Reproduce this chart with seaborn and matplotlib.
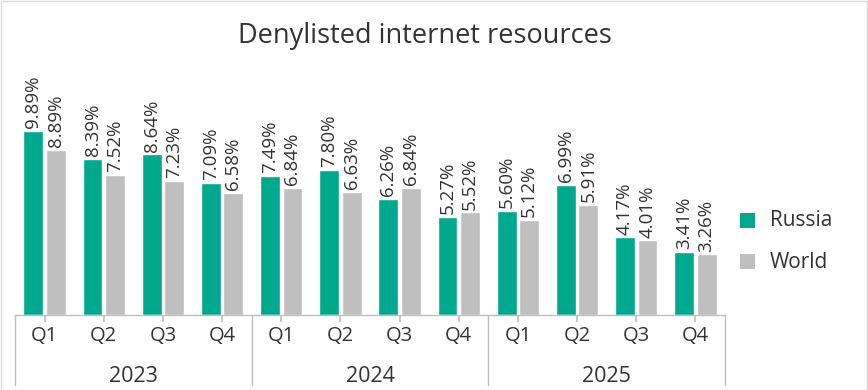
import matplotlib
matplotlib.use("Agg")
import matplotlib.pyplot as plt
import matplotlib.transforms as mtransforms
from matplotlib.patches import Rectangle
import seaborn as sns
import pandas as pd

years = ["2023", "2024", "2025"]
quarters = ["Q1", "Q2", "Q3", "Q4"]
russia = [9.89, 8.39, 8.64, 7.09, 7.49, 7.80, 6.26, 5.27, 5.60, 6.99, 4.17, 3.41]
world = [8.89, 7.52, 7.23, 6.58, 6.84, 6.63, 6.84, 5.52, 5.12, 5.91, 4.01, 3.26]
series = ["Russia", "World"]
colors = {"Russia": "#00A88E", "World": "#BFBFBF"}
title = "Denylisted internet resources"

cats = [f"{y} {q}" for y in years for q in quarters]
df = pd.DataFrame({
    "period": cats * 2,
    "series": ["Russia"] * len(cats) + ["World"] * len(cats),
    "value": russia + world,
})

sns.set_theme(style="white")
plt.rcParams["font.family"] = ["Open Sans", "DejaVu Sans"]
txt = "#333333"

W, H = 868, 390
fig = plt.figure(figsize=(W / 100, H / 100), dpi=100)
ax_left, ax_right, ax_bottom, ax_top = 15, 725, 315, 55
ax = fig.add_axes([ax_left / W, 1 - ax_bottom / H, (ax_right - ax_left) / W, (ax_bottom - ax_top) / H])

sns.barplot(data=df, x="period", y="value", hue="series", order=cats, hue_order=series,
            palette=colors, width=0.76, gap=0.12, ax=ax, legend=False, saturation=1)

ymax = (ax_bottom - ax_top) / 18.6
ax.set_ylim(0, ymax)
ax.set_xlim(-0.5, len(cats) - 0.5)

for container in ax.containers:
    for bar in container:
        h = bar.get_height()
        ax.annotate(f"{h:.2f}%", (bar.get_x() + bar.get_width() / 2, h),
                    xytext=(0, 2), textcoords="offset points", rotation=90,
                    ha="center", va="bottom", fontsize=13.5, color=txt)

for s in ["top", "right", "left"]:
    ax.spines[s].set_visible(False)
ax.spines["bottom"].set_color("#BFBFBF")
ax.spines["bottom"].set_linewidth(1)
ax.set_yticks([])
ax.set_xlabel("")
ax.set_ylabel("")
ax.set_xticks(range(len(cats)))
ax.set_xticklabels(quarters * len(years), fontsize=14.5, color=txt)
ax.tick_params(axis="x", length=5, color="#BFBFBF", pad=3, bottom=True)

trans = mtransforms.blended_transform_factory(ax.transData, ax.transAxes)
ah = ax_bottom - ax_top
for i in range(len(years) + 1):
    x = i * 4 - 0.5
    ax.plot([x, x], [0, -(385 - ax_bottom) / ah], transform=trans, color="#BFBFBF",
            lw=1, clip_on=False)
for i, y in enumerate(years):
    ax.text(i * 4 + 1.5, -(376 - ax_bottom) / ah, y, transform=trans, ha="center",
            va="center", fontsize=15.5, color=txt)

fig.text(425 / W, 1 - 36 / H, title, ha="center", va="center", fontsize=19.5, color=txt)

for j, s in enumerate(series):
    yc = 221 + j * 41
    fig.patches.append(Rectangle((740 / W, 1 - (yc + 7) / H), 15 / W, 15 / H,
                                 transform=fig.transFigure, facecolor=colors[s], edgecolor="none"))
    fig.text(770 / W, 1 - yc / H, s, ha="left", va="center", fontsize=15, color=txt)

fig.patches.append(Rectangle((0.5 / W, 0.5 / H), 1 - 1.5 / W, 1 - 1.5 / H, transform=fig.transFigure,
                             facecolor="none", edgecolor="#D9D9D9", lw=1))

fig.savefig("out.png", dpi=100)
